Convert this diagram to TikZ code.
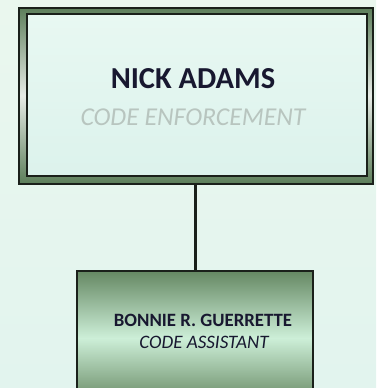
\documentclass[tikz,border=0pt]{standalone}
\usepackage{fontspec}
\setmainfont{Carlito}
\definecolor{bgtop}{HTML}{EAF7EE}
\definecolor{bgbot}{HTML}{E2F4EE}
\definecolor{edge}{HTML}{1A201A}
\definecolor{band}{HTML}{5C7E5A}
\definecolor{paneltop}{HTML}{E8F8F2}
\definecolor{panelbot}{HTML}{DCF2EC}
\definecolor{boxdark}{HTML}{658863}
\definecolor{boxlight}{HTML}{CDEFD8}
\definecolor{boxlow}{HTML}{6C8E69}
\definecolor{namecol}{HTML}{181830}
\definecolor{rolegray}{HTML}{B8C5BF}
\tikzset{
  frame/.style={draw=edge, line width=2pt, shape=rectangle, inner sep=0pt,
    top color=band, bottom color=band, middle color=white!85!band},
  panel/.style={draw=edge, line width=2pt, shape=rectangle, inner sep=0pt,
    top color=paneltop, bottom color=panelbot},
  cardbox/.style={draw=edge, line width=2pt, shape=rectangle, inner sep=0pt},
  conn/.style={draw=edge, line width=2.2pt},
  bigname/.style={font=\bfseries\fontsize{30.5}{34}\selectfont, text=namecol, inner sep=0pt},
  bigrole/.style={font=\itshape\fontsize{25.7}{30}\selectfont, text=rolegray, inner sep=0pt},
  smallname/.style={font=\bfseries\fontsize{18.8}{22}\selectfont, text=namecol, inner sep=0pt},
  smallrole/.style={font=\itshape\fontsize{19}{22}\selectfont, text=namecol, inner sep=0pt}
}
\begin{document}
\begin{tikzpicture}[x=1pt,y=-1pt]
\useasboundingbox (0,0) rectangle (376,388);
\clip (0,0) rectangle (376,388);
% page background
\fill[top color=bgtop, bottom color=bgbot] (0,0) rectangle (376,388);

% head of the unit: double frame
\node[frame, minimum width=354pt, minimum height=176pt] (top) at (195.5,95.5) {};
\node[panel, minimum width=340pt, minimum height=162pt] (topin) at (196.5,95) {};
\node[bigname] (nick) at (193,79) {NICK ADAMS};
\node[bigrole] (nickrole) at (193,117) {CODE ENFORCEMENT};

% staff card, shaded dark-light-dark
\fill[top color=boxdark, bottom color=boxlight] (77,271) rectangle (313,338);
\fill[top color=boxlight, bottom color=boxlow] (77,338) rectangle (313,400);
\node[cardbox, minimum width=236pt, minimum height=129pt] (bot) at (195,335.5) {};
\node[smallname] (bonnie) at (203,320) {BONNIE R. GUERRETTE};
\node[smallrole] (bonnierole) at (204,342) {CODE ASSISTANT};

% reporting line
\draw[conn] (top.south) -- (top.south |- bot.north);
\end{tikzpicture}
\end{document}
